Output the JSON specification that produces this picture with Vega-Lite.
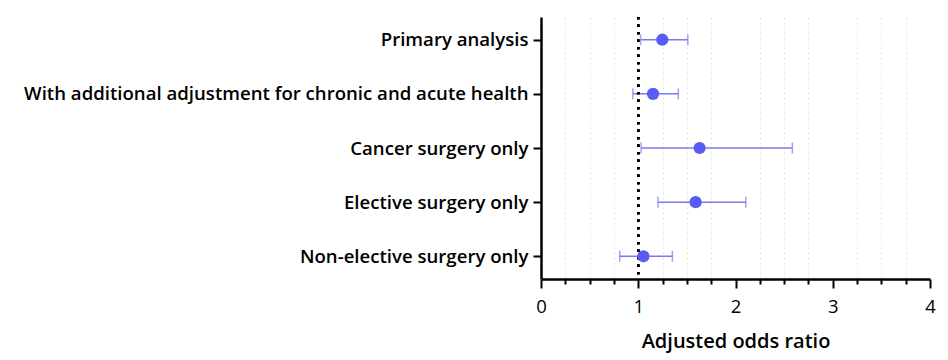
{
  "$schema": "https://vega.github.io/schema/vega-lite/v6.json",
  "width": 389,
  "height": 262,
  "autosize": {"type": "none"},
  "padding": {"left": 541, "top": 17, "right": 18, "bottom": 81},
  "background": "white",
  "config": {
    "view": {"stroke": null},
    "font": "Open Sans",
    "axisY": {
      "labelFontSize": 18.6,
      "labelFontWeight": 600,
      "labelColor": "black",
      "labelLimit": 700,
      "labelPadding": 5,
      "domainWidth": 2.5,
      "domainColor": "black",
      "tickColor": "black",
      "tickWidth": 2,
      "tickSize": 8
    }
  },
  "data": {
    "values": [
      {"analysis": "Primary analysis", "or": 1.247, "lo": 1.024, "hi": 1.51},
      {"analysis": "With additional adjustment for chronic and acute health", "or": 1.152, "lo": 0.944, "hi": 1.412},
      {"analysis": "Cancer surgery only", "or": 1.631, "lo": 1.029, "hi": 2.585},
      {"analysis": "Elective surgery only", "or": 1.59, "lo": 1.203, "hi": 2.106},
      {"analysis": "Non-elective surgery only", "or": 1.053, "lo": 0.81, "hi": 1.351}
    ]
  },
  "layer": [
    {
      "mark": {"type": "rule", "color": "#7a7af0", "strokeWidth": 1.5},
      "encoding": {
        "y": {
          "field": "analysis",
          "type": "nominal",
          "sort": null,
          "scale": {"type": "point", "padding": 0.42},
          "axis": {"title": null}
        },
        "x": {
          "field": "lo",
          "type": "quantitative",
          "scale": {"domain": [0, 4], "nice": false, "zero": false},
          "axis": {
            "values": [0, 0.25, 0.5, 0.75, 1, 1.25, 1.5, 1.75, 2, 2.25, 2.5, 2.75, 3, 3.25, 3.5, 3.75, 4],
            "tickCount": 40,
            "title": "Adjusted odds ratio",
            "titleFontSize": 20,
            "titleFontWeight": 600,
            "titleColor": "black",
            "titlePadding": 16,
            "labelExpr": "datum.value % 1 === 0 ? format(datum.value, 'd') : ''",
            "labelFontSize": 18.5,
            "labelFontWeight": 500,
            "labelColor": "black",
            "labelFlush": false,
            "labelOverlap": false,
            "labelPadding": 9,
            "domainWidth": 2.5,
            "domainColor": "black",
            "tickColor": "black",
            "tickWidth": 2,
            "tickSize": {"condition": {"test": "datum.value % 1 === 0", "value": 9}, "value": 5},
            "grid": true,
            "gridColor": {"condition": {"test": "datum.value % 1 === 0", "value": "transparent"}, "value": "#e4e4e4"},
            "gridDash": [2, 3],
            "gridWidth": 1
          }
        },
        "x2": {"field": "hi"}
      }
    },
    {
      "mark": {"type": "rule", "color": "black", "strokeDash": [2.2, 5.3], "strokeWidth": 2.5},
      "encoding": {
        "x": {"datum": 1, "type": "quantitative"}
      }
    },
    {
      "mark": {"type": "tick", "color": "#7a7af0", "size": 11, "thickness": 1.5, "orient": "vertical"},
      "encoding": {
        "y": {"field": "analysis", "type": "nominal", "sort": null},
        "x": {"field": "lo", "type": "quantitative"}
      }
    },
    {
      "mark": {"type": "tick", "color": "#7a7af0", "size": 11, "thickness": 1.5, "orient": "vertical"},
      "encoding": {
        "y": {"field": "analysis", "type": "nominal", "sort": null},
        "x": {"field": "hi", "type": "quantitative"}
      }
    },
    {
      "mark": {"type": "circle", "color": "#5a5af5", "size": 150, "opacity": 1},
      "encoding": {
        "y": {"field": "analysis", "type": "nominal", "sort": null},
        "x": {"field": "or", "type": "quantitative"}
      }
    }
  ]
}
